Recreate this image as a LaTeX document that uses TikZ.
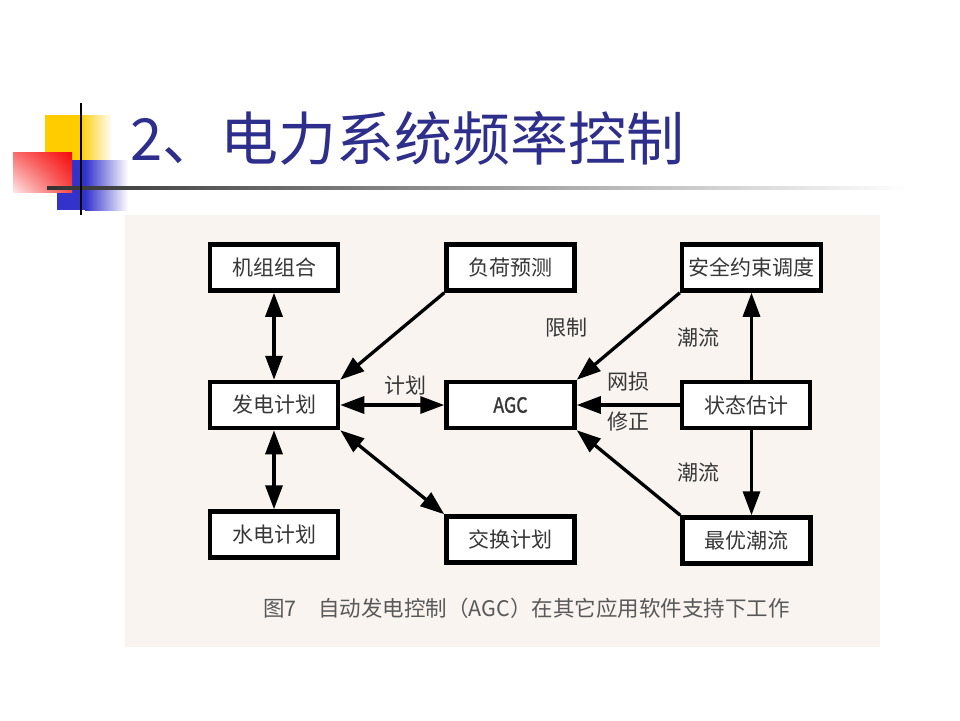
\documentclass[tikz,border=0pt]{standalone}
\usepackage{fontspec}
\setmainfont{Noto Sans CJK SC}
\newfontfamily\agcfont[FakeBold=1.2, FakeStretch=0.85]{Noto Sans CJK SC}
\usepackage{tikz}
\usetikzlibrary{arrows.meta,shadings}
\definecolor{titleblue}{RGB}{46,46,140}
\definecolor{panelbg}{RGB}{250,244,240}
\definecolor{decoyellow}{RGB}{255,204,0}
\definecolor{decoblue}{RGB}{51,51,204}
\definecolor{decored}{RGB}{245,10,10}
\definecolor{boxtext}{RGB}{55,55,55}

\begin{document}
\begin{tikzpicture}[x=1pt, y=-1pt,
	box/.style={draw, line width=4.5pt, fill=white, minimum width=128pt, minimum height=46pt, inner sep=0pt, text=boxtext, font=\fontsize{21}{21}\selectfont},
	lbl/.style={inner sep=0pt, text=boxtext, font=\fontsize{21}{21}\selectfont},
	oneway/.style={line width=3.3pt, -{Triangle[length=24pt, width=17pt]}},
	twoway/.style={line width=3.3pt, {Triangle[length=24pt, width=17pt]}-{Triangle[length=24pt, width=17pt]}}]
	\useasboundingbox (0,0) rectangle (960,720);
	\fill[white] (0,0) rectangle (960,720);
	% corner decoration and title rule
	\fill[decoyellow] (45,115) rectangle (80,160);
	\shade[left color=decoyellow, right color=white] (80,115) rectangle (112,160);
	\fill[decoblue] (57,160) rectangle (85,210);
	\shade[left color=decoblue, right color=white] (85,160) rectangle (128,210);
	\shade[upper right=decored, upper left=decored!60, lower right=decored!75, lower left=decored!10] (13,152) rectangle (72,192);
	\shade[left color=black!80, right color=white] (47,186.5) rectangle (910,189.5);
	\draw[line width=2.5pt] (81,103) -- (81,215);
	\node[anchor=west, inner sep=0pt, text=titleblue, font=\fontsize{58}{58}\selectfont] (title) at (130,138) {2、电力系统频率控制};
	% figure panel
	\fill[panelbg] (125,215) rectangle (880,647);
	\node[box] (jizu) at (274,267.5) {机组组合};
	\node[box] (fuhe) at (510.5,267.5) {负荷预测};
	\node[box, minimum width=139pt] (anquan) at (751.5,267.5) {安全约束调度};
	\node[box] (fadian) at (274,405) {发电计划};
	\node[box, font=\agcfont\fontsize{21}{21}\selectfont] (agc) at (510.5,405) {AGC};
	\node[box] (zhuangtai) at (746,405) {状态估计};
	\node[box] (shuidian) at (274,534.5) {水电计划};
	\node[box] (jiaohuan) at (510.5,539.5) {交换计划};
	\node[box] (youhua) at (746.5,540.5) {最优潮流};
	\draw[twoway] (jizu) -- (fadian);
	\draw[twoway] (fadian) -- (shuidian);
	\draw[oneway] (fuhe.south west) -- (fadian.north east);
	\draw[twoway] (fadian) -- (agc);
	\draw[twoway] (fadian.south east) -- (jiaohuan.north west);
	\draw[oneway] (anquan.south west) -- (agc.north east);
	\draw[oneway] (zhuangtai) -- (agc);
	\draw[oneway] (youhua.north west) -- (agc.south east);
	\draw[oneway] (anquan.south |- zhuangtai.north) -- (anquan.south);
	\draw[oneway] (anquan.south |- zhuangtai.south) -- (anquan.south |- youhua.north);
	\node[lbl] (jihua) at (405,386) {计划};
	\node[lbl] (xianzhi) at (566,328) {限制};
	\node[lbl] (chaoliu1) at (698,338) {潮流};
	\node[lbl] (wangsun) at (628,382) {网损};
	\node[lbl] (xiuzheng) at (628,422) {修正};
	\node[lbl] (chaoliu2) at (698,473) {潮流};
	\node[anchor=west, inner sep=0pt, text=black!65, font=\fontsize{21.5}{21.5}\selectfont] (caption) at (263,608) {图7\quad 自动发电控制（AGC）在其它应用软件支持下工作};
\end{tikzpicture}
\end{document}
